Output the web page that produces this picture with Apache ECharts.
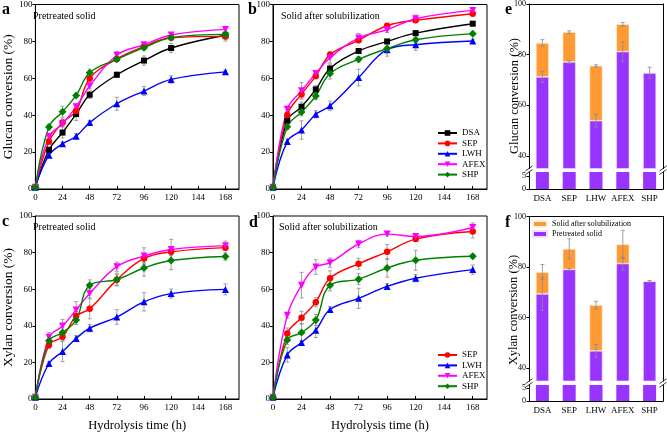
<!DOCTYPE html>
<html><head><meta charset="utf-8">
<script src="https://cdn.jsdelivr.net/npm/echarts@6/dist/echarts.min.js"></script>
<style>html,body{margin:0;padding:0;background:#fff}#c{width:667px;height:433px}</style>
</head><body><div id="c"></div>
<script>
// ---------------- data ----------------
const hours = [0, 12, 24, 36, 48, 72, 96, 120, 168];
const xTickLabels = [0, 24, 48, 72, 96, 120, 144, 168];
const lineNames = ['DSA', 'SEP', 'LWH', 'AFEX', 'SHP'];

// a: glucan conversion, pretreated solid
const aDSA  = [1, 21.2, 30.6, 40.6, 51.1, 61.9, 69.6, 76.4, 83.3];
const aSEP  = [1, 25.7, 36.0, 42.3, 59.9, 70.5, 77.2, 82.0, 82.7];
const aLWH  = [1, 18.3, 24.5, 28.6, 36.0, 46.2, 53.1, 59.4, 63.5];
const aAFEX = [1, 28.4, 35.3, 44.6, 55.8, 72.5, 78.2, 83.5, 86.5];
const aSHP  = [1, 33.6, 41.9, 50.7, 63.0, 70.3, 76.6, 82.0, 83.8];
const aDSAerr  = [0, 1.5, 3, 3.5, 2, 1.5, 2.5, 2.5, 2];
const aSEPerr  = [0, 1.5, 2, 2, 2, 1.5, 1, 1, 2.5];
const aLWHerr  = [0, 1, 1, 1.5, 1, 3.5, 2.5, 2, 1];
const aAFEXerr = [0, 1, 1.5, 1.5, 1.5, 2, 1, 1, 1];
const aSHPerr  = [0, 1.5, 3, 1, 2, 1, 1, 1, 1];

// b: glucan conversion, solid after solubilization
const bDSA  = [1, 37.0, 44.6, 54.0, 65.3, 74.8, 80.0, 84.5, 89.6];
const bSEP  = [1, 40.1, 51.4, 61.2, 72.8, 80.6, 88.5, 91.4, 95.0];
const bLWH  = [1, 25.7, 32.0, 40.5, 45.1, 60.4, 75.5, 78.2, 80.2];
const bAFEX = [1, 43.2, 53.2, 62.6, 71.2, 81.8, 86.3, 92.3, 96.8];
const bSHP  = [1, 33.8, 41.7, 50.4, 62.6, 70.3, 76.1, 80.9, 84.2];
const bDSAerr  = [0, 1.5, 2.5, 2, 2, 1, 1, 1, 1];
const bSEPerr  = [0, 1, 2, 1.5, 1.5, 1, 1, 1, 1];
const bLWHerr  = [0, 1.5, 5, 2, 2.5, 4.5, 3.5, 3, 1];
const bAFEXerr = [0, 1, 4.5, 1.5, 3, 2.5, 1.5, 2, 1];
const bSHPerr  = [0, 1.5, 2, 2, 3, 1.5, 2, 1.5, 1];

// c: xylan conversion, pretreated solid
const cSEP  = [1, 29.5, 34.0, 45.3, 49.3, 65.1, 76.8, 80.4, 82.7];
const cLWH  = [1, 19.4, 25.9, 33.1, 38.7, 44.8, 53.1, 57.6, 59.9];
const cAFEX = [1, 33.8, 39.9, 48.7, 57.7, 72.3, 78.1, 81.7, 83.8];
const cSHP  = [1, 31.8, 36.3, 43.2, 62.1, 65.3, 71.6, 75.7, 77.9];
const cSEPerr  = [0, 2, 2, 2.5, 5.5, 3, 2.5, 2, 1];
const cLWHerr  = [0, 1, 5.5, 1.5, 2, 4, 5, 2.5, 3];
const cAFEXerr = [0, 2.5, 3.5, 4.5, 2.5, 2.5, 4.5, 5.5, 2.5];
const cSHPerr  = [0, 2, 2.5, 2.5, 3, 3.5, 4.5, 5, 2];

// d: xylan conversion, solid after solubilization
const dSEP  = [1, 35.8, 44.4, 52.9, 66.0, 73.9, 80.4, 87.4, 91.5];
const dLWH  = [1, 24.1, 30.9, 37.6, 48.9, 55.0, 61.5, 66.0, 70.7];
const dAFEX = [1, 45.7, 62.2, 72.1, 74.5, 84.7, 90.1, 88.8, 93.7];
const dSHP  = [1, 32.2, 36.3, 43.2, 62.1, 65.5, 71.6, 75.8, 78.0];
const dSEPerr  = [0, 3, 3.5, 2.5, 4, 3, 4, 1, 3.5];
const dLWHerr  = [0, 4, 1, 4, 1.5, 5.5, 1.5, 2, 2.5];
const dAFEXerr = [0, 1.5, 7, 4, 2.5, 2, 1, 1, 2.5];
const dSHPerr  = [0, 2.5, 5, 3, 3, 3, 5, 5.5, 1];

// e, f: bar charts
const barCats = ['DSA', 'SEP', 'LHW', 'AFEX', 'SHP'];
const ePre      = [71.2, 77.1, 53.9, 81.2, 72.8];
const eTotal    = [84.6, 88.9, 75.6, 92.0, 72.8];
const ePreErr   = [2.2, 0.5, 2.5, 3.9, 2.2];
const eTotalErr = [1.3, 0.5, 0.4, 0.7, 0];
const fPre      = [69.4, 79.1, 46.9, 81.4, 74.4];
const fTotal    = [78.0, 87.2, 65.0, 89.0, 74.4];
const fPreErr   = [6.5, 0.4, 2.5, 2.5, 0.3];
const fTotalErr = [3.0, 4.0, 1.5, 5.5, 0];

// ---------------- styles ----------------
const FONT = "'Liberation Serif', 'Times New Roman', serif";
const STY = {
  DSA:  {color: '#000000', symbol: 'rect', size: 6, rot: 0},
  SEP:  {color: '#ff0000', symbol: 'circle', size: 6.5, rot: 0},
  LWH:  {color: '#0000ff', symbol: 'triangle', size: 7, rot: 0},
  AFEX: {color: '#ff00ff', symbol: 'triangle', size: 7, rot: 180},
  SHP:  {color: '#008000', symbol: 'diamond', size: 8, rot: 0}
};
const PURPLE = '#9933ff', ORANGE = '#ff9933';

const grids = [
  {left: 27,  top: 4,     width: 212, height: 185},   // a
  {left: 273, top: 4,     width: 214, height: 185},   // b
  {left: 27,  top: 216,   width: 212, height: 185},   // c
  {left: 273, top: 216,   width: 214, height: 185},   // d
  {left: 529, top: 4,     width: 134, height: 164.5}, // e upper
  {left: 529, top: 172,   width: 134, height: 17},    // e lower
  {left: 529, top: 216.5, width: 134, height: 164.5}, // f upper
  {left: 529, top: 385,   width: 134, height: 16}     // f lower
];

function errRender(params, api) {
  const x = api.value(0), y = api.value(1), e = api.value(2);
  if (!e) return null;
  const t = api.coord([x, y + e]), b = api.coord([x, y - e]);
  const w = 2;
  const st = {stroke: '#8a8a8a', lineWidth: 0.8};
  return {type: 'group', children: [
    {type: 'line', shape: {x1: t[0], y1: t[1], x2: b[0], y2: b[1]}, style: st},
    {type: 'line', shape: {x1: t[0] - w, y1: t[1], x2: t[0] + w, y2: t[1]}, style: st},
    {type: 'line', shape: {x1: b[0] - w, y1: b[1], x2: b[0] + w, y2: b[1]}, style: st}
  ]};
}

const series = [];
function addLine(name, vals, errs, gi) {
  const s = STY[name];
  series.push({
    type: 'line', name: name, xAxisIndex: gi, yAxisIndex: gi,
    data: hours.map((h, i) => [h, vals[i]]),
    smooth: 0.4,
    symbol: s.symbol, symbolSize: s.size, symbolRotate: s.rot,
    itemStyle: {color: s.color}, lineStyle: {color: s.color, width: 1.4},
    z: 3, animation: false
  });
  series.push({
    type: 'custom', name: name + ' err', xAxisIndex: gi, yAxisIndex: gi,
    data: hours.map((h, i) => [h, vals[i], errs[i]]),
    renderItem: errRender, z: 2, silent: true, animation: false
  });
}
addLine('DSA', aDSA, aDSAerr, 0);
addLine('SEP', aSEP, aSEPerr, 0);
addLine('LWH', aLWH, aLWHerr, 0);
addLine('AFEX', aAFEX, aAFEXerr, 0);
addLine('SHP', aSHP, aSHPerr, 0);
addLine('DSA', bDSA, bDSAerr, 1);
addLine('SEP', bSEP, bSEPerr, 1);
addLine('LWH', bLWH, bLWHerr, 1);
addLine('AFEX', bAFEX, bAFEXerr, 1);
addLine('SHP', bSHP, bSHPerr, 1);
addLine('SEP', cSEP, cSEPerr, 2);
addLine('LWH', cLWH, cLWHerr, 2);
addLine('AFEX', cAFEX, cAFEXerr, 2);
addLine('SHP', cSHP, cSHPerr, 2);
addLine('SEP', dSEP, dSEPerr, 3);
addLine('LWH', dLWH, dLWHerr, 3);
addLine('AFEX', dAFEX, dAFEXerr, 3);
addLine('SHP', dSHP, dSHPerr, 3);

function addBars(pre, total, preErr, totErr, gUp, gLow, stackId) {
  const barCommon = {type: 'bar', barWidth: 13, animation: false};
  series.push(Object.assign({}, barCommon, {
    name: 'Pretreated solid', stack: stackId, xAxisIndex: gUp, yAxisIndex: gUp,
    data: pre, itemStyle: {color: PURPLE, borderColor: '#f0e0ff', borderWidth: 0.6}
  }));
  series.push(Object.assign({}, barCommon, {
    name: 'Solid after solubilization', stack: stackId, xAxisIndex: gUp, yAxisIndex: gUp,
    data: total.map((t, i) => +(t - pre[i]).toFixed(2)),
    itemStyle: {color: ORANGE, borderColor: '#fff3e6', borderWidth: 0.6}
  }));
  series.push(Object.assign({}, barCommon, {
    name: 'Pretreated solid', stack: stackId + 'low', xAxisIndex: gLow, yAxisIndex: gLow,
    data: pre, itemStyle: {color: PURPLE, borderWidth: 0}
  }));
  series.push({type: 'custom', xAxisIndex: gUp, yAxisIndex: gUp, z: 5, silent: true, animation: false,
    data: pre.map((v, i) => [i, v, preErr[i]]), renderItem: errRender});
  series.push({type: 'custom', xAxisIndex: gUp, yAxisIndex: gUp, z: 5, silent: true, animation: false,
    data: total.map((v, i) => [i, v, totErr[i]]), renderItem: errRender});
}
addBars(ePre, eTotal, ePreErr, eTotalErr, 4, 5, 'e');
addBars(fPre, fTotal, fPreErr, fTotalErr, 6, 7, 'f');

// ---------------- axes ----------------
const lab = {fontFamily: FONT, fontSize: 9, color: '#000'};
const blackLine = {show: true, lineStyle: {color: '#000', width: 1}};
const xAxes = [], yAxes = [];
for (let g = 0; g < 4; g++) {
  xAxes.push({
    type: 'value', gridIndex: g, min: 0, max: 180, interval: 24,
    axisLine: blackLine, axisTick: {show: true, inside: true, length: 3, lineStyle: {color: '#000'}},
    axisLabel: Object.assign({margin: 4, showMaxLabel: false,
      formatter: v => (xTickLabels.indexOf(v) >= 0 ? String(v) : '')}, lab),
    splitLine: {show: false},
    name: g >= 2 ? 'Hydrolysis time (h)' : '', nameLocation: 'middle', nameGap: 20,
    nameTextStyle: {fontFamily: FONT, fontSize: 12.5, color: '#000'}
  });
  yAxes.push({
    type: 'value', gridIndex: g, min: 0, max: 100, interval: 20,
    axisLine: blackLine, axisTick: {show: true, length: 3, lineStyle: {color: '#000'}},
    axisLabel: Object.assign({margin: 3}, lab), splitLine: {show: false},
    name: g < 2 ? (g === 0 ? 'Glucan conversion (%)' : '') : (g === 2 ? 'Xylan conversion (%)' : ''),
    nameLocation: 'middle', nameGap: 12,
    nameTextStyle: {fontFamily: FONT, fontSize: 13.5, color: '#000'}
  });
}
// bar grids: 4 e-up, 5 e-low, 6 f-up, 7 f-low
[4, 5, 6, 7].forEach(g => {
  const upper = (g === 4 || g === 6);
  xAxes.push({
    type: 'category', gridIndex: g, data: barCats, position: upper ? 'top' : 'bottom',
    axisLine: blackLine,
    axisTick: {show: !upper, inside: true, length: 2, alignWithLabel: true, interval: 0, lineStyle: {color: '#000'}},
    axisLabel: Object.assign({show: !upper, margin: 5, interval: 0, hideOverlap: false}, lab)
  });
});
const barY = [
  {g: 4, min: 35, max: 100, vals: [40, 60, 80, 100]},
  {g: 5, min: 0, max: 6.7, vals: [0, 5]},
  {g: 6, min: 35, max: 100, vals: [40, 60, 80, 100]},
  {g: 7, min: 0, max: 6.3, vals: [0, 5]}
];
barY.forEach(b => {
  yAxes.push({
    type: 'value', gridIndex: b.g, min: b.min, max: b.max,
    axisLine: blackLine,
    axisTick: {show: true, length: 2.5, customValues: b.vals, lineStyle: {color: '#000'}},
    axisLabel: Object.assign({margin: 3, customValues: b.vals}, lab, {fontSize: 8}),
    splitLine: {show: false}
  });
});
barY.forEach(b => {
  yAxes.push({
    type: 'value', gridIndex: b.g, min: b.min, max: b.max, position: 'right',
    axisLine: blackLine, axisTick: {show: false}, axisLabel: {show: false}, splitLine: {show: false}
  });
});

// ---------------- decorations ----------------
const graphic = [];
function txt(x, y, s, size, bold, extra) {
  graphic.push(Object.assign({type: 'text', x: x, y: y, silent: true,
    style: {text: s, font: (bold ? 'bold ' : '') + size + 'px ' + FONT, fill: '#000',
      textVerticalAlign: 'middle'}}, extra || {}));
}
txt(2, 10, 'a', 16, true);
txt(248, 10, 'b', 16, true);
txt(505, 10, 'e', 16, true);
txt(2, 222, 'c', 16, true);
txt(249, 223, 'd', 16, true);
txt(505, 223, 'f', 16, true);
txt(33, 16, 'Pretreated solid', 10, false);
txt(281, 16, 'Solid after solubilization', 10, false);
txt(33, 227, 'Pretreated solid', 10, false);
txt(279, 227, 'Solid after solubilization', 10, false);
graphic.push({type: 'text', x: 515, y: 96, rotation: Math.PI / 2, silent: true,
  style: {text: 'Glucan conversion (%)', font: '12.5px ' + FONT, fill: '#000',
    textAlign: 'center', textVerticalAlign: 'middle'}});
graphic.push({type: 'text', x: 514, y: 310, rotation: Math.PI / 2, silent: true,
  style: {text: 'Xylan conversion (%)', font: '12.5px ' + FONT, fill: '#000',
    textAlign: 'center', textVerticalAlign: 'middle'}});
// axis-break marks
function breakMark(gUp, gLow) {
  const yc = (grids[gUp].top + grids[gUp].height + grids[gLow].top) / 2;
  [grids[gUp].left, grids[gUp].left + grids[gUp].width].forEach(x => {
    [-1.8, 1.8].forEach(d => {
      graphic.push({type: 'line', silent: true, z: 10,
        shape: {x1: x - 3.5, y1: yc + d + 2.5, x2: x + 3.5, y2: yc + d - 2.5},
        style: {stroke: '#000', lineWidth: 0.8}});
    });
  });
}
breakMark(4, 5);
breakMark(6, 7);

const legendText = {fontFamily: FONT, fontSize: 9, color: '#000', lineHeight: 10};
const option = {
  backgroundColor: '#fff',
  animation: false,
  grid: grids.map((g, i) => Object.assign({}, g, i < 4 ? {show: true, borderColor: '#000', borderWidth: 1} : {})),
  xAxis: xAxes,
  yAxis: yAxes,
  legend: [
    {data: lineNames, orient: 'vertical', left: 437, top: 128, itemWidth: 19, itemHeight: 7,
     itemGap: 0.4, textStyle: legendText, selectedMode: false, padding: 0},
    {data: ['SEP', 'LWH', 'AFEX', 'SHP'], orient: 'vertical', left: 437, top: 350, itemWidth: 19, itemHeight: 7,
     itemGap: 0.4, textStyle: legendText, selectedMode: false, padding: 0},
    {data: ['Solid after solubilization', 'Pretreated solid'], orient: 'vertical', left: 532, top: 220,
     itemWidth: 14, itemHeight: 6, itemGap: 2, icon: 'rect', selectedMode: false, padding: 0,
     textStyle: {fontFamily: FONT, fontSize: 8, color: '#000', lineHeight: 6}}
  ],
  graphic: graphic,
  series: series
};
const chart = echarts.init(document.getElementById('c'), null, {renderer: 'canvas'});
chart.setOption(option);
</script></body></html>
